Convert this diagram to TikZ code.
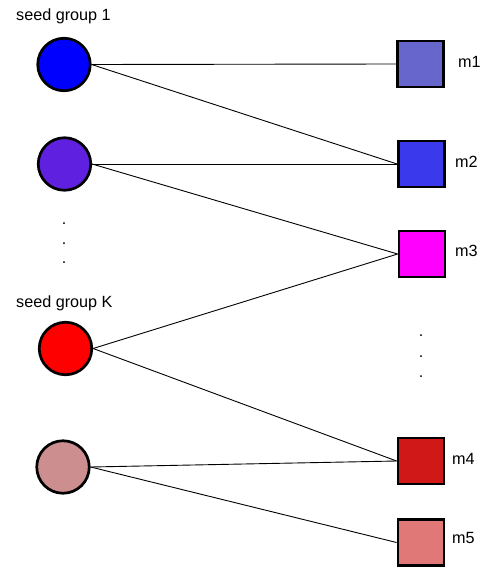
\documentclass[tikz,border=0pt]{standalone}
\usepackage{fontspec}
\setmainfont{Liberation Sans}
\begin{document}
\begin{tikzpicture}[x=1pt,y=-1pt,
  seed/.style={circle,draw=black,line width=2.7pt,minimum size=52.5pt,inner sep=0pt},
  meas/.style={rectangle,draw=black,line width=2.8pt,minimum size=46pt,inner sep=0pt},
  lbl/.style={inner sep=0pt,font=\fontsize{16.2}{18}\selectfont},
  link/.style={draw=black,line width=0.9pt},
  vdot/.style={inner sep=0pt,anchor=base,font=\fontsize{16}{18}\selectfont}]
\useasboundingbox (0,0) rectangle (484,570);
\definecolor{cA}{HTML}{0000FF}
\definecolor{cB}{HTML}{6020E0}
\definecolor{cK}{HTML}{FF0000}
\definecolor{cD}{HTML}{CC8E8E}
\definecolor{mA}{HTML}{6666CC}
\definecolor{mB}{HTML}{3A3AEC}
\definecolor{mC}{HTML}{FF00FF}
\definecolor{mD}{HTML}{D01818}
\definecolor{mE}{HTML}{E07878}
% seed circles
\node[seed,fill=cA] (s1) at (64,64.5) {};
\node[seed,fill=cB] (s2) at (64.5,164) {};
\node[seed,fill=cK] (sK) at (65.5,348.5) {};
\node[seed,fill=cD] (s4) at (63,467) {};
% measurement squares
\node[meas,fill=mA] (m1) at (420.5,64) {};
\node[meas,fill=mB] (m2) at (421.5,164) {};
\node[meas,fill=mC] (m3) at (422,254) {};
\node[meas,fill=mD] (m4) at (421,461) {};
\node[meas,fill=mE] (m5) at (421,542.5) {};
% connectors
\path[link] (s1.east) -- (m1.west);
\path[link] (s1.east) -- (m2.west);
\path[link] (s2.east) -- (m2.west);
\path[link] (s2.east) -- (m3.west);
\path[link] (sK.east) -- (m3.west);
\path[link] (sK.east) -- (m4.west);
\path[link] (s4.east) -- (m4.west);
\path[link] (s4.east) -- (m5.west);
% labels
\node[lbl,anchor=base west] (g1) at (16,20) {seed group 1};
\node[lbl,anchor=base west] (gK) at (16,307.5) {seed group K};
\node[lbl,anchor=base west] (l1) at (458,67) {m1};
\node[lbl,anchor=base west] (l2) at (455,167.5) {m2};
\node[lbl,anchor=base west] (l3) at (455,256.5) {m3};
\node[lbl,anchor=base west] (l4) at (452,464) {m4};
\node[lbl,anchor=base west] (l5) at (452,543.5) {m5};
% vertical dots
\node[vdot] (d1) at (64,224) {.};
\node[vdot] (d2) at (64,244) {.};
\node[vdot] (d3) at (64,263.5) {.};
\node[vdot] (d4) at (421,336) {.};
\node[vdot] (d5) at (421,357) {.};
\node[vdot] (d6) at (421,377.5) {.};
\end{tikzpicture}
\end{document}
